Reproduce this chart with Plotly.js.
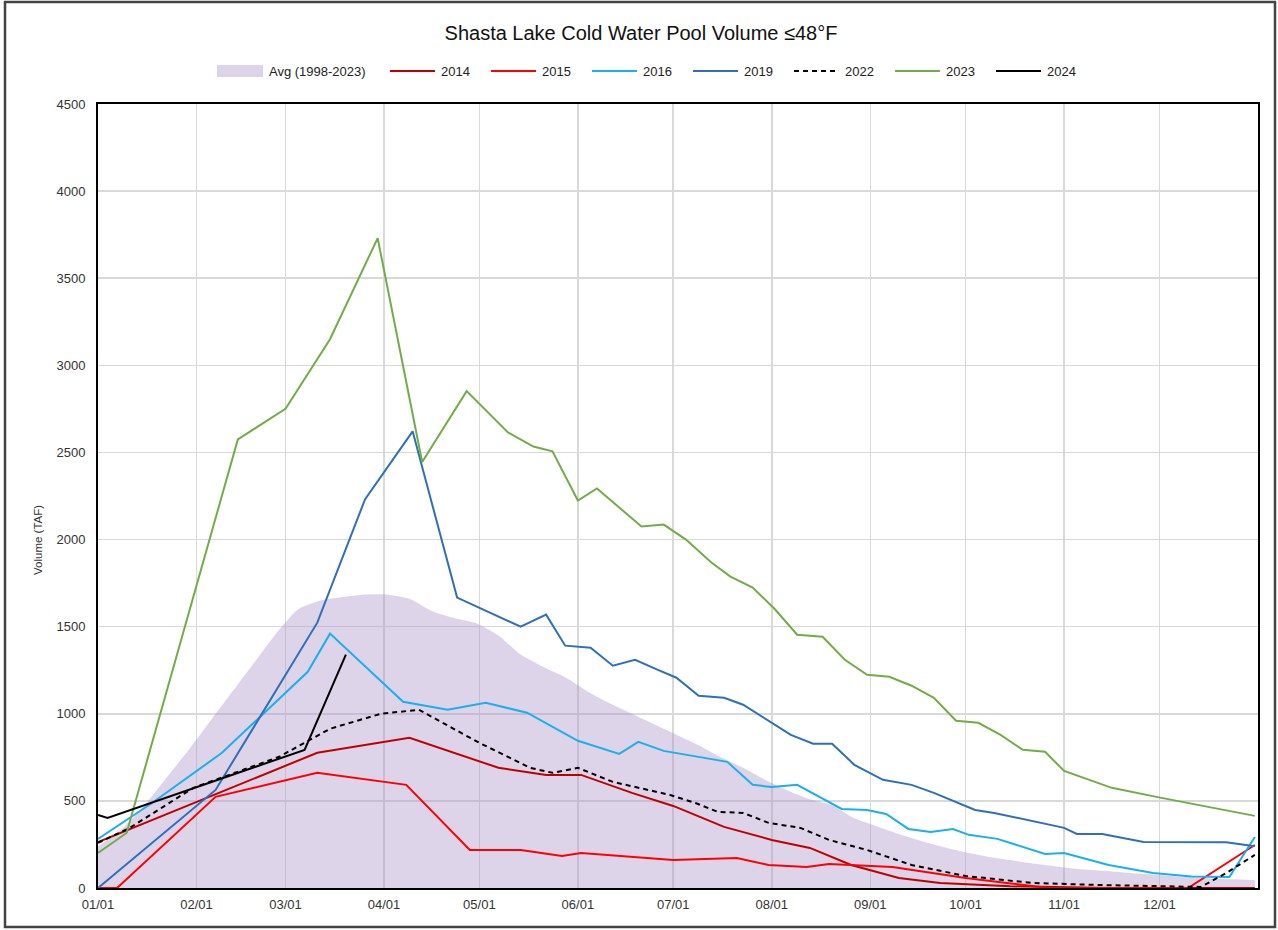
<!DOCTYPE html>
<html>
<head>
<meta charset="utf-8">
<script src="https://cdn.plot.ly/plotly-3.0.1.min.js"></script>
<style>
  html, body { margin: 0; padding: 0; background: #ffffff; }
  #chart { width: 1278px; height: 930px; }
</style>
</head>
<body>
<div id="chart"></div>
<script>
// ---------- DATA ----------
const YEAR = '2023-';
const monthTicks = ['01-01','02-01','03-01','04-01','05-01','06-01','07-01','08-01','09-01','10-01','11-01','12-01'];
const monthLabels = ['01/01','02/01','03/01','04/01','05/01','06/01','07/01','08/01','09/01','10/01','11/01','12/01'];
const yTicks = [0,500,1000,1500,2000,2500,3000,3500,4000,4500];

const avgName = 'Avg (1998-2023)';
const avgDates = ['01-01','01-08','01-15','01-22','01-29','02-05','02-12','02-19','02-26','03-05','03-12','03-19','03-26','04-02','04-09','04-16','04-23','04-30','05-07','05-14','05-21','05-28','06-04','06-11','06-18','06-25','07-02','07-09','07-16','07-23','07-30','08-06','08-13','08-20','08-27','09-03','09-10','09-17','09-24','10-01','10-08','10-15','10-22','10-29','11-05','11-12','11-19','11-26','12-03','12-10','12-17','12-24','12-31'];
const avgVals  = [240,330,460,620,780,950,1120,1290,1460,1600,1650,1670,1685,1685,1660,1590,1550,1520,1450,1340,1270,1210,1130,1060,1000,940,880,820,750,690,620,560,510,475,400,355,310,270,235,205,180,160,140,125,110,100,90,80,72,62,55,50,45];

const d2014 = ['01-01','03-11','04-09','05-07','05-22','06-02','06-18','07-01','07-17','08-01','08-13','08-26','09-10','09-23','10-15','11-15','12-31'];
const v2014 = [264,776,862,690,649,649,546,471,351,276,230,132,57,29,10,0,0];

const d2015 = ['01-01','01-07','02-07','03-11','04-08','04-28','05-14','05-27','06-02','06-20','07-01','07-21','07-31','08-12','08-19','09-08','09-21','10-01','10-14','10-27','12-10','12-31'];
const v2015 = [0,0,523,661,592,218,218,184,201,178,161,172,132,121,138,121,86,57,29,0,0,247];

const d2016 = ['01-01','01-18','02-09','03-01','03-08','03-15','04-07','04-21','05-03','05-16','06-01','06-14','06-20','06-28','07-18','07-26','08-01','08-09','08-23','08-31','09-06','09-13','09-20','09-27','10-02','10-11','10-26','11-01','11-15','11-29','12-11','12-23','12-31'];
const v2016 = [282,488,776,1121,1241,1460,1069,1023,1063,1006,845,770,839,787,724,592,580,592,454,448,425,339,322,339,305,282,195,201,132,86,66,63,293];

const d2019 = ['01-01','02-07','03-11','03-26','04-10','04-24','05-14','05-22','05-28','06-05','06-12','06-19','06-26','07-02','07-09','07-17','07-23','08-07','08-14','08-20','08-27','09-05','09-14','09-21','10-04','10-10','11-01','11-05','11-13','11-26','12-22','12-31'];
const v2019 = [0,563,1523,2230,2621,1667,1500,1569,1391,1379,1276,1310,1253,1207,1103,1092,1052,879,828,828,707,621,592,546,448,431,345,310,310,264,262,240];

const d2022 = ['01-01','01-11','01-31','02-27','03-15','03-31','04-12','05-01','05-17','05-24','06-01','06-12','06-30','07-08','07-15','07-23','07-31','08-10','08-19','08-31','09-14','10-01','10-22','11-12','12-14','12-22','12-31'];
const v2022 = [259,345,575,753,914,1000,1023,833,690,661,690,609,534,488,437,431,374,345,276,218,132,69,29,17,6,86,190];

const d2023 = ['01-01','01-10','02-14','03-01','03-15','03-30','04-13','04-27','05-10','05-18','05-24','06-01','06-07','06-21','06-28','07-05','07-13','07-19','07-26','08-02','08-09','08-17','08-24','08-31','09-07','09-14','09-21','09-28','10-05','10-12','10-19','10-26','11-01','11-16','11-30','12-31'];
const v2023 = [201,316,2575,2750,3150,3730,2445,2852,2615,2534,2506,2224,2293,2075,2086,2000,1868,1787,1724,1600,1454,1442,1310,1224,1212,1161,1092,960,948,879,793,782,672,575,523,414];

const d2024 = ['01-01','01-04','03-07','03-20'];
const v2024 = [420,402,793,1339];

const seriesNames  = ['2014','2015','2016','2019','2022','2023','2024'];
const seriesDates  = [d2014, d2015, d2016, d2019, d2022, d2023, d2024];
const seriesVals   = [v2014, v2015, v2016, v2019, v2022, v2023, v2024];

// ---------- STYLE ----------
const seriesColors = ['#C00000','#FF0000','#1AAFEF','#2E6FBA','#000000','#70AD47','#000000'];
const seriesDash   = ['solid','solid','solid','solid','5px,4px','solid','solid'];
const avgFill = 'rgba(172,148,202,0.40)';
const FONT = 'Liberation Sans, Arial, sans-serif';

const L = 98, R = 20, T = 104, B = 42, W = 1278, H = 930;
const PW = W - L - R, PH = H - T - B;
const px2x = px => (px - L) / PW;
const py2y = py => (H - B - py) / PH;

const full = arr => arr.map(d => YEAR + d);

const traces = [];
traces.push({
  type: 'scatter', mode: 'lines', name: avgName,
  x: full(avgDates), y: avgVals,
  fill: 'tozeroy', fillcolor: avgFill,
  line: {width: 0, color: avgFill, shape: 'spline', smoothing: 0.6},
  showlegend: false, hoverinfo: 'skip'
});
seriesNames.forEach((n, i) => {
  traces.push({
    type: 'scatter', mode: 'lines', name: n,
    x: full(seriesDates[i]), y: seriesVals[i],
    line: {color: seriesColors[i], width: 2, dash: seriesDash[i]},
    showlegend: false
  });
});

// ---------- manual legend ----------
const shapes = [];
const annotations = [];
const legY = 71;
shapes.push({type: 'rect', xref: 'paper', yref: 'paper',
  x0: px2x(217), x1: px2x(263), y0: py2y(77), y1: py2y(65),
  fillcolor: avgFill, line: {width: 0}});
annotations.push({xref: 'paper', yref: 'paper', x: px2x(267), y: py2y(legY),
  xanchor: 'left', yanchor: 'middle', showarrow: false, text: avgName,
  font: {family: FONT, size: 13, color: '#222'}});
seriesNames.forEach((n, i) => {
  const x0 = 390 + i * 101;
  shapes.push({type: 'line', xref: 'paper', yref: 'paper',
    x0: px2x(x0), x1: px2x(x0 + 45), y0: py2y(legY), y1: py2y(legY),
    line: {color: seriesColors[i], width: 2, dash: seriesDash[i]}});
  annotations.push({xref: 'paper', yref: 'paper', x: px2x(x0 + 49), y: py2y(legY),
    xanchor: 'left', yanchor: 'middle', showarrow: false, text: n,
    font: {family: FONT, size: 13, color: '#222'}});
});

annotations.push({xref: 'paper', yref: 'paper', x: px2x(38), y: py2y(540),
  xanchor: 'center', yanchor: 'middle', showarrow: false, textangle: -90,
  text: 'Volume (TAF)', font: {family: FONT, size: 11.5, color: '#333'}});

shapes.push({type: 'rect', xref: 'paper', yref: 'paper',
  x0: px2x(5), x1: px2x(1275), y0: py2y(927), y1: py2y(2),
  line: {color: '#444', width: 2.5}, fillcolor: 'rgba(0,0,0,0)', layer: 'above'});

const layout = {
  width: W, height: H,
  margin: {l: L, r: R, t: T, b: B, pad: 0},
  paper_bgcolor: '#ffffff', plot_bgcolor: '#ffffff',
  title: {text: 'Shasta Lake Cold Water Pool Volume ≤48°F',
    font: {family: FONT, size: 20, color: '#111'},
    x: 641 / W, xref: 'container', xanchor: 'center', y: 1 - 33 / H, yref: 'container', yanchor: 'middle'},
  showlegend: false,
  xaxis: {
    type: 'date',
    range: [YEAR + '01-01', '2024-01-01'],
    tickvals: full(monthTicks), ticktext: monthLabels,
    showgrid: true, gridcolor: '#D9D9D9', gridwidth: 1.5,
    showline: true, linecolor: '#000', linewidth: 2, mirror: true,
    ticks: 'outside', ticklen: 3, tickcolor: 'rgba(0,0,0,0)',
    tickfont: {family: FONT, size: 13, color: '#333'},
    zeroline: false, fixedrange: true
  },
  yaxis: {
    range: [0, 4500],
    tickvals: yTicks,
    showgrid: true, gridcolor: '#D9D9D9', gridwidth: 1.5,
    showline: true, linecolor: '#000', linewidth: 2, mirror: true,
    ticks: 'outside', ticklen: 8, tickcolor: 'rgba(0,0,0,0)',
    tickfont: {family: FONT, size: 13, color: '#333'},
    zeroline: false, fixedrange: true
  },
  shapes: shapes,
  annotations: annotations
};

Plotly.newPlot('chart', traces, layout, {staticPlot: true, displayModeBar: false});
</script>
</body>
</html>
